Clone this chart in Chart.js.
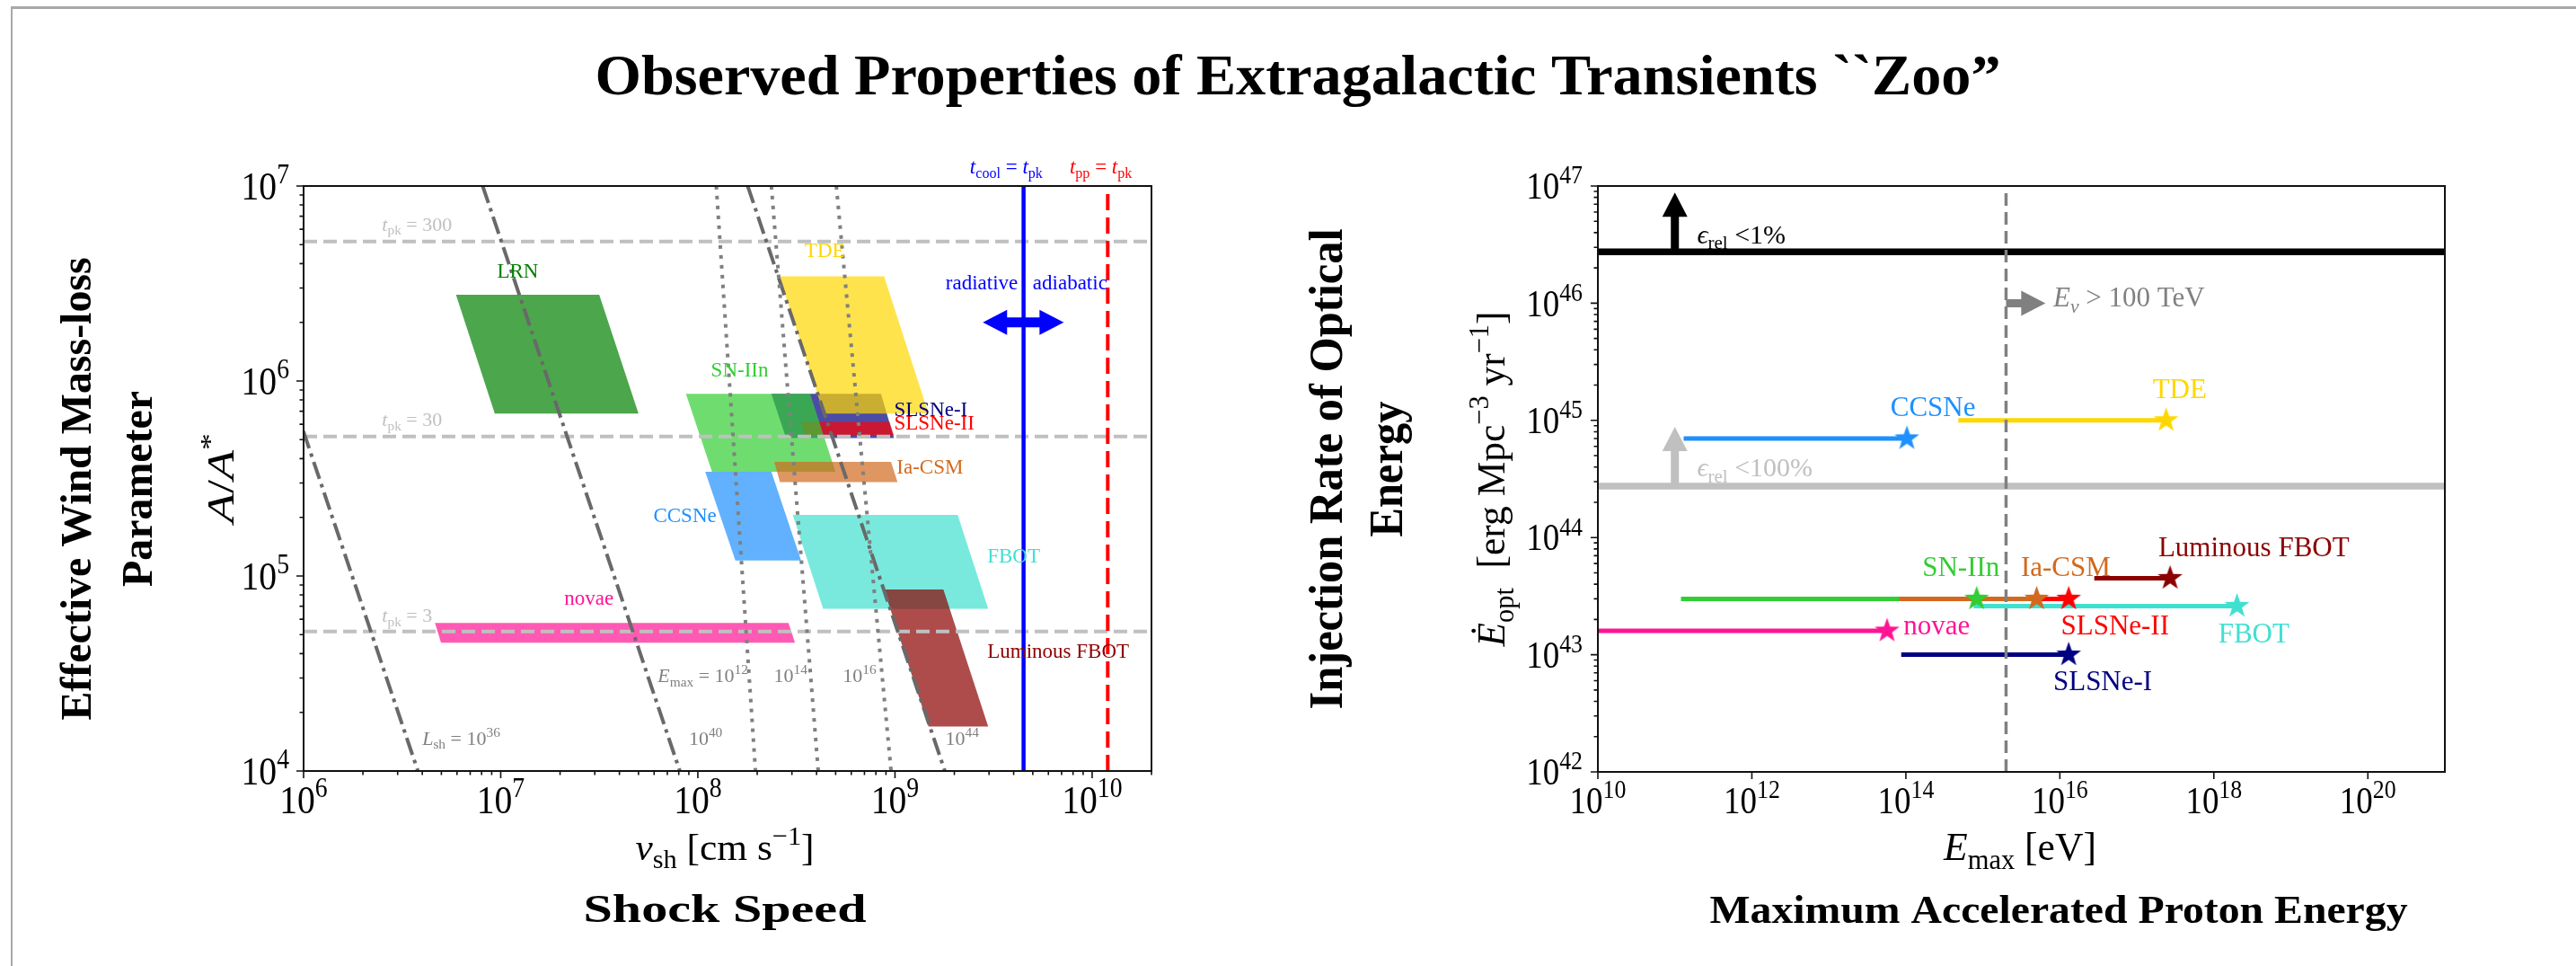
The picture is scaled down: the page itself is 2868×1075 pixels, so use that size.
<!DOCTYPE html>
<html>
<head>
<meta charset="utf-8">
<title>Extragalactic transients zoo</title>
<script src="https://cdn.jsdelivr.net/npm/chart.js@4.4.1/dist/chart.umd.min.js"></script>
<style>
  html, body { margin: 0; padding: 0; background: #fff; }
  #page { position: relative; width: 2868px; height: 1075px; overflow: hidden; background: #fff; }
  #frame { position: absolute; left: 12px; top: 7px; width: 2900px; height: 1100px;
           border-top: 3px solid #a8a8a8; border-left: 2px solid #a8a8a8; }
  canvas { position: absolute; left: 0; top: 0; }
</style>
</head>
<body>
<div id="page">
  <div id="frame"></div>
  <canvas id="speedChart" width="2868" height="1075"></canvas>
  <canvas id="energyChart" width="2868" height="1075"></canvas>
</div>
<script>
// ---------- left panel: shock speed vs. wind parameter ----------
const regionNames = ['LRN', 'novae', 'CCSNe', 'SLSNe-I', 'SLSNe-II', 'SN-IIn', 'TDE', 'Ia-CSM', 'FBOT', 'Luminous FBOT'];
// A/A* at the upper and lower edge of every region
const regionAtop    = [2.77e6, 5.74e4, 3.42e5, 8.6e5, 6.17e5, 8.6e5, 3.44e6, 3.85e5, 2.06e5, 8.53e4];
const regionAbottom = [6.8e5, 4.55e4, 1.2e5, 5.1e5, 5.25e5, 3.42e5, 6.8e5, 3.03e5, 6.78e4, 1.69e4];
// shock speed (cm/s) at the left / right corner of the upper and lower edge
const regionVtop    = [[5.93e6, 3.16e7], [4.64e6, 2.88e8], [1.09e8, 2.36e8], [2.36e8, 8.49e8], [3.34e8, 9.37e8],
                       [8.7e7, 3.71e8], [2.59e8, 8.8e8], [2.44e8, 9.55e8], [3.03e8, 2.08e9], [8.79e8, 1.76e9]];
const regionVbottom = [[9.33e6, 5.0e7], [4.98e6, 3.11e8], [1.55e8, 3.34e8], [2.8e8, 9.88e8], [3.52e8, 9.88e8],
                       [1.18e8, 4.99e8], [4.35e8, 1.48e9], [2.61e8, 1.03e9], [4.32e8, 2.97e9], [1.48e9, 2.97e9]];
const regionLabelV = [1.22e7, 2.8e7, 8.6e7, 9.9e8, 9.9e8, 1.63e8, 4.4e8, 1.02e9, 2.94e9, 2.94e9];
const regionLabelA = [3.7e6, 7.7e4, 2.06e5, 7.2e5, 6.1e5, 1.15e6, 4.69e6, 3.66e5, 1.28e5, 4.14e4];

// peak time contours (days)
const tpkValues = [300, 30, 3];
const tpkA      = [5.2e6, 5.2e5, 5.2e4];
// shock luminosity contours: exponent, speed where they hit A = 1e7 and A = 1e4
const lshExp  = [36, 40, 44];
const lshVtop = [3.8e5, 8.1e6, 1.79e8];
const lshVbot = [3.8e6, 8.1e7, 1.79e9];
// maximum proton energy contours
const emaxExp  = [12, 14, 16];
const emaxVtop = [1.24e8, 2.36e8, 5.04e8];
const emaxVbot = [1.96e8, 4.08e8, 9.55e8];
const vCool = 4.49e9;   // t_cool = t_pk
const vPP   = 1.2e10;   // t_pp = t_pk

// ---------- right panel: max proton energy vs. optical injection rate ----------
const sourceNames = ['novae', 'CCSNe', 'TDE', 'SN-IIn', 'SLSNe-II', 'Ia-CSM', 'SLSNe-I', 'FBOT', 'Luminous FBOT'];
const emaxLow  = [1e10, 1.3e11, 4.8e14, 1.2e11, 8.7e13, 8.2e13, 8.7e13, 7.6e14, 2.8e16];
const emaxHigh = [5.7e13, 1.03e14, 2.4e17, 8.3e14, 1.3e16, 5.0e15, 1.3e16, 2.0e18, 2.7e17];
const edotOpt  = [1.6e43, 7.0e44, 1.0e45, 3.0e43, 3.0e43, 3.0e43, 1.0e43, 2.6e43, 4.5e43];
const sourceLabelE = [9.3e13, 2.25e14, 3.6e17, 5.2e14, 5.2e16, 1.19e16, 3.6e16, 3.3e18, 3.3e18];
const sourceLabelY = [1.78e43, 1.32e45, 1.88e45, 5.7e43, 1.78e43, 5.7e43, 5.96e42, 1.52e43, 8.4e43];

const effPercent = [1, 100];            // eps_rel limits
const effLevel   = [2.74e46, 2.74e44];
const effArrowE  = 1e11;
const effArrowTip = [8.8e46, 8.8e44];
const nuThreshold = 2e15;               // E_nu > 100 TeV
const nuArrowEnd  = 6.5e15;
const nuArrowY    = 1e46;

// ---------- styles ----------
const FAM = '"Liberation Serif"';
const regionText = ['green', 'deeppink', 'dodgerblue', 'navy', 'red', 'limegreen', 'gold', 'chocolate', 'turquoise', 'darkred'];
const regionFill = ['rgba(0,128,0,0.7)', 'rgba(255,20,147,0.7)', 'rgba(30,144,255,0.7)', 'rgba(0,0,128,0.7)',
                    'rgba(255,0,0,0.7)', 'rgba(50,205,50,0.7)', 'rgba(255,215,0,0.7)', 'rgba(210,105,30,0.7)',
                    'rgba(64,224,208,0.7)', 'rgba(139,0,0,0.7)'];
const regionAlign = ['center', 'center', 'center', 'left', 'left', 'center', 'center', 'left', 'left', 'left'];
const sourceColors = ['deeppink', 'dodgerblue', 'gold', 'limegreen', 'red', 'chocolate', 'navy', 'turquoise', 'darkred'];
const sourceAlign = ['left', 'center', 'center', 'center', 'center', 'center', 'center', 'center', 'center'];

// ---------- text helpers (sub/superscripts) ----------
function fontStr(st, size) {
  return (st.includes('i') ? 'italic ' : '') + (st.includes('b') ? 'bold ' : '') + size.toFixed(1) + 'px ' + FAM;
}
// parts: [text, style]; style letters i=italic, b=bold, s=subscript, p=superscript
function drawRich(ctx, parts, x, y, o) {
  ctx.save();
  let w = 0;
  const items = parts.map(([t, st = '']) => {
    const small = st.includes('s') || st.includes('p');
    const font = fontStr(st, small ? o.size * 0.7 : o.size);
    ctx.font = font;
    const it = { t, font, x: w, dy: st.includes('s') ? o.size * 0.22 : st.includes('p') ? -o.size * 0.4 : 0 };
    w += ctx.measureText(t).width;
    return it;
  });
  ctx.translate(x, y);
  if (o.rot) ctx.rotate(o.rot);
  const sx = o.width ? o.width / w : (o.sx || 1);
  ctx.scale(sx, 1);
  const x0 = o.align === 'center' ? -w / 2 : o.align === 'right' ? -w : 0;
  const by = o.base ? 0 : o.size * 0.34;
  ctx.fillStyle = o.color || '#000';
  ctx.textAlign = 'left';
  ctx.textBaseline = 'alphabetic';
  items.forEach(it => { ctx.font = it.font; ctx.fillText(it.t, x0 + it.x, by + it.dy); });
  ctx.restore();
  return w;
}

function arrow(ctx, x0, y0, x1, y1, shaft, head, headLen, both) {
  const L = Math.hypot(x1 - x0, y1 - y0), ux = (x1 - x0) / L, uy = (y1 - y0) / L;
  const P = (s, n) => [x0 + ux * s - uy * n, y0 + uy * s + ux * n];
  const sw = shaft / 2, hw = head / 2;
  const pts = both
    ? [P(0, 0), P(headLen, hw), P(headLen, sw), P(L - headLen, sw), P(L - headLen, hw), P(L, 0),
       P(L - headLen, -hw), P(L - headLen, -sw), P(headLen, -sw), P(headLen, -hw)]
    : [P(0, sw), P(L - headLen, sw), P(L - headLen, hw), P(L, 0), P(L - headLen, -hw), P(L - headLen, -sw), P(0, -sw)];
  ctx.beginPath();
  pts.forEach((p, i) => i ? ctx.lineTo(p[0], p[1]) : ctx.moveTo(p[0], p[1]));
  ctx.closePath();
  ctx.fill();
}

function minorTicks(lo, hi) {
  const out = [];
  for (let d = Math.floor(Math.log10(lo)); d <= Math.ceil(Math.log10(hi)); d++)
    for (let m = 2; m <= 9; m++) {
      const v = m * Math.pow(10, d);
      if (v >= lo * 0.999 && v <= hi * 1.001) out.push(v);
    }
  return out;
}

// frame, ticks and 10^n labels drawn through the chart's own scales
function drawAxes(chart, t) {
  const { ctx, chartArea: a } = chart, sx = chart.scales.x, sy = chart.scales.y;
  ctx.save();
  ctx.strokeStyle = '#111';
  ctx.lineWidth = 2;
  ctx.strokeRect(a.left, a.top, a.right - a.left, a.bottom - a.top);
  ctx.lineWidth = 1.6;
  ctx.beginPath();
  const tickX = (vals, len) => vals.forEach(v => { const p = sx.getPixelForValue(v); ctx.moveTo(p, a.bottom); ctx.lineTo(p, a.bottom + len); });
  const tickY = (vals, len) => vals.forEach(v => { const p = sy.getPixelForValue(v); ctx.moveTo(a.left, p); ctx.lineTo(a.left - len, p); });
  tickX(t.xMajor, 8); tickX(t.xMinor, 4.5); tickY(t.yMajor, 8); tickY(t.yMinor, 4.5);
  ctx.stroke();
  const pow = v => [['10'], [String(Math.round(Math.log10(v))), 'p']];
  t.xMajor.forEach(v => drawRich(ctx, pow(v), sx.getPixelForValue(v), t.xBase, { size: t.size, align: 'center', base: true, sx: t.squeeze }));
  t.yMajor.forEach(v => drawRich(ctx, pow(v), t.yRight, sy.getPixelForValue(v), { size: t.size, align: 'right', sx: t.squeeze }));
  ctx.restore();
}

const lineSet = (pts, color, width, dash) => ({
  data: pts, showLine: true, borderColor: color, borderWidth: width, borderDash: dash || [],
  pointRadius: 0, fill: false, clip: 0
});
// give datasets an order so the first listed is painted first (at the bottom)
const stack = sets => sets.map((s, i) => Object.assign(s, { order: sets.length - i }));

const baseOptions = (pad, xr, yr) => ({
  responsive: false, animation: false, devicePixelRatio: 1,
  layout: { padding: pad },
  plugins: { legend: { display: false }, tooltip: { enabled: false } },
  scales: {
    x: { type: 'logarithmic', min: xr[0], max: xr[1], bounds: 'data', ticks: { display: false },
         grid: { display: false }, border: { display: false }, afterFit: s => { s.height = 0; } },
    y: { type: 'logarithmic', min: yr[0], max: yr[1], bounds: 'data', ticks: { display: false },
         grid: { display: false }, border: { display: false }, afterFit: s => { s.width = 0; } }
  }
});

// ================= left chart =================
const speedSets = [];
regionNames.forEach((n, i) => speedSets.push({
  label: n,
  data: [{ x: regionVtop[i][0], y: regionAtop[i] }, { x: regionVtop[i][1], y: regionAtop[i] },
         { x: regionVbottom[i][1], y: regionAbottom[i] }, { x: regionVbottom[i][0], y: regionAbottom[i] },
         { x: regionVtop[i][0], y: regionAtop[i] }],
  showLine: true, borderWidth: 0, borderColor: 'rgba(0,0,0,0)', backgroundColor: regionFill[i],
  fill: 'shape', pointRadius: 0, clip: 0
}));
tpkA.forEach(a => speedSets.push(lineSet([{ x: 1e6, y: a }, { x: 2e10, y: a }], '#c0c0c0', 4, [15, 7])));
lshExp.forEach((e, i) => speedSets.push(lineSet([{ x: lshVtop[i], y: 1e7 }, { x: lshVbot[i], y: 1e4 }], '#696969', 4, [20, 6, 4, 6])));
emaxExp.forEach((e, i) => speedSets.push(lineSet([{ x: emaxVtop[i], y: 1e7 }, { x: emaxVbot[i], y: 1e4 }], '#808080', 4, [4, 7])));
speedSets.push(lineSet([{ x: vCool, y: 1e4 }, { x: vCool, y: 1e7 }], 'blue', 4.5));
speedSets.push(lineSet([{ x: vPP, y: 1e4 }, { x: vPP, y: 1e7 }], 'red', 4, [18, 8]));

const speedDecor = {
  id: 'speedDecor',
  afterDatasetsDraw(chart) {
    const { ctx } = chart, x = chart.scales.x, y = chart.scales.y;
    const X = v => x.getPixelForValue(v), Y = a => y.getPixelForValue(a);
    ctx.save();
    ctx.fillStyle = 'blue';
    arrow(ctx, X(2.79e9), Y(2e6), X(7.18e9), Y(2e6), 11, 28, 27, true);
    ctx.restore();
    regionNames.forEach((n, i) => drawRich(ctx, [[n]], X(regionLabelV[i]), Y(regionLabelA[i]),
      { size: 23, align: regionAlign[i], color: regionText[i] }));
    tpkValues.forEach((t, i) => drawRich(ctx, [['t', 'i'], ['pk', 's'], [' = ' + t]], X(2.5e6), Y([6.4e6, 6.35e5, 6.27e4][i]),
      { size: 22, align: 'left', color: '#c0c0c0' }));
    drawRich(ctx, [['E', 'i'], ['max', 's'], [' = 10'], [String(emaxExp[0]), 'p']], X(1.8e8), Y(3.1e4), { size: 22, align: 'right', color: 'gray' });
    drawRich(ctx, [['10'], [String(emaxExp[1]), 'p']], X(2.43e8), Y(3.1e4), { size: 22, align: 'left', color: 'gray' });
    drawRich(ctx, [['10'], [String(emaxExp[2]), 'p']], X(5.43e8), Y(3.1e4), { size: 22, align: 'left', color: 'gray' });
    drawRich(ctx, [['L', 'i'], ['sh', 's'], [' = 10'], [String(lshExp[0]), 'p']], X(4.0e6), Y(1.48e4), { size: 22, align: 'left', color: 'gray' });
    drawRich(ctx, [['10'], [String(lshExp[1]), 'p']], X(9.0e7), Y(1.48e4), { size: 22, align: 'left', color: 'gray' });
    drawRich(ctx, [['10'], [String(lshExp[2]), 'p']], X(1.8e9), Y(1.48e4), { size: 22, align: 'left', color: 'gray' });
    drawRich(ctx, [['radiative']], X(4.2e9), Y(3.2e6), { size: 23, align: 'right', color: 'blue' });
    drawRich(ctx, [['adiabatic']], X(5.0e9), Y(3.2e6), { size: 23, align: 'left', color: 'blue' });
    drawRich(ctx, [['t', 'i'], ['cool', 's'], [' = '], ['t', 'i'], ['pk', 's']], X(3.67e9), Y(1.26e7), { size: 23, align: 'center', color: 'blue' });
    drawRich(ctx, [['t', 'i'], ['pp', 's'], [' = '], ['t', 'i'], ['pk', 's']], X(1.107e10), Y(1.26e7), { size: 23, align: 'center', color: 'red' });
  },
  afterDraw(chart) {
    const { ctx } = chart;
    drawAxes(chart, {
      xMajor: [1e6, 1e7, 1e8, 1e9, 1e10], xMinor: minorTicks(1e6, 2e10),
      yMajor: [1e4, 1e5, 1e6, 1e7], yMinor: minorTicks(1e4, 1e7),
      size: 44, xBase: 905, yRight: 322, squeeze: 0.9
    });
    drawRich(ctx, [['v', 'i'], ['sh', 's'], [' [cm s'], ['\u22121', 'p'], [']']], 807, 957, { size: 42, align: 'center', base: true, width: 199 });
    drawRich(ctx, [['A', 'i'], ['/'], ['A', 'i'], ['*', 'p']], 246, 532, { size: 42, align: 'center', rot: -Math.PI / 2, width: 100 });
    drawRich(ctx, [['Shock Speed', 'b']], 807, 1026, { size: 44, align: 'center', base: true, width: 315 });
    ctx.save(); ctx.font = fontStr('b', 48);
    const sq = 218 / ctx.measureText('Parameter').width; ctx.restore();
    drawRich(ctx, [['Effective Wind Mass-loss', 'b']], 85, 544, { size: 48, align: 'center', rot: -Math.PI / 2, sx: sq });
    drawRich(ctx, [['Parameter', 'b']], 153, 544, { size: 48, align: 'center', rot: -Math.PI / 2, sx: sq });
    drawRich(ctx, [['Observed Properties of Extragalactic Transients ``Zoo\u201D', 'b']], 1445, 105,
      { size: 64, align: 'center', base: true, width: 1565 });
  }
};

new Chart(document.getElementById('speedChart'), {
  type: 'scatter',
  data: { datasets: stack(speedSets) },
  options: baseOptions({ left: 338, top: 207, right: 1586, bottom: 217 }, [1e6, 2e10], [1e4, 1e7]),
  plugins: [speedDecor]
});

// ================= right chart =================
function starImage(color, r) {
  const c = document.createElement('canvas'), s = Math.ceil(2 * r + 4);
  c.width = c.height = s;
  const g = c.getContext('2d');
  g.translate(s / 2, s / 2);
  g.beginPath();
  for (let k = 0; k < 10; k++) {
    const ang = -Math.PI / 2 + k * Math.PI / 5, rr = k % 2 ? r * 0.4 : r;
    g.lineTo(rr * Math.cos(ang), rr * Math.sin(ang));
  }
  g.closePath();
  g.fillStyle = color;
  g.fill();
  return c;
}

const energySets = [];
effLevel.forEach((lv, i) => energySets.push(lineSet([{ x: 1e10, y: lv }, { x: 1e21, y: lv }], i ? '#c0c0c0' : '#000', 7.5)));
sourceNames.forEach((n, i) => energySets.push(Object.assign(
  lineSet([{ x: emaxLow[i], y: edotOpt[i] }, { x: emaxHigh[i], y: edotOpt[i] }], sourceColors[i], 5), { label: n })));
energySets.push(lineSet([{ x: nuThreshold, y: 1e42 }, { x: nuThreshold, y: 1e47 }], '#808080', 3.5, [14, 7]));
energySets.push({
  label: 'peak',
  data: sourceNames.map((n, i) => ({ x: emaxHigh[i], y: edotOpt[i] })),
  showLine: false, pointRadius: 10, pointStyle: sourceColors.map(c => starImage(c, 14.5)), clip: false
});

const energyDecor = {
  id: 'energyDecor',
  afterDatasetsDraw(chart) {
    const { ctx } = chart, x = chart.scales.x, y = chart.scales.y;
    const X = v => x.getPixelForValue(v), Y = a => y.getPixelForValue(a);
    ctx.save();
    effLevel.forEach((lv, i) => {
      ctx.fillStyle = i ? '#c0c0c0' : '#000';
      arrow(ctx, X(effArrowE), Y(lv), X(effArrowE), Y(effArrowTip[i]), 9, 28, 27, false);
      drawRich(ctx, [['\u03F5', 'i'], ['rel', 's'], [' <' + effPercent[i] + '%']], X(1.94e11), Y(i ? 3.97e44 : 3.9e46),
        { size: 30, align: 'left', color: i ? '#c0c0c0' : '#000' });
    });
    ctx.fillStyle = '#808080';
    arrow(ctx, X(nuThreshold), Y(nuArrowY), X(nuArrowEnd), Y(nuArrowY), 9, 28, 27, false);
    ctx.restore();
    drawRich(ctx, [['E', 'i'], ['\u03BD', 'is'], [' > 100 TeV']], X(8.2e15), Y(1.13e46), { size: 31, align: 'left', color: '#808080' });
    sourceNames.forEach((n, i) => drawRich(ctx, [[n]], X(sourceLabelE[i]), Y(sourceLabelY[i]),
      { size: 31, align: sourceAlign[i], color: sourceColors[i] }));
  },
  afterDraw(chart) {
    const { ctx } = chart;
    drawAxes(chart, {
      xMajor: [1e10, 1e12, 1e14, 1e16, 1e18, 1e20], xMinor: [],
      yMajor: [1e42, 1e43, 1e44, 1e45, 1e46, 1e47], yMinor: minorTicks(1e42, 1e47),
      size: 42, xBase: 905, yRight: 1762, squeeze: 0.88
    });
    drawRich(ctx, [['E', 'i'], ['max', 's'], [' [eV]']], 2249, 957, { size: 44, align: 'center', base: true, width: 170 });
    drawRich(ctx, [['\u0116', 'i'], ['opt', 's'], ['  [erg Mpc'], ['\u22123', 'p'], [' yr'], ['\u22121', 'p'], [']']], 1660, 533,
      { size: 44, align: 'center', rot: -Math.PI / 2, width: 373 });
    drawRich(ctx, [['Maximum Accelerated Proton Energy', 'b']], 2292, 1027, { size: 44, align: 'center', base: true, width: 777 });
    drawRich(ctx, [['Injection Rate of Optical', 'b']], 1476, 522, { size: 52, align: 'center', rot: -Math.PI / 2, width: 535 });
    drawRich(ctx, [['Energy', 'b']], 1543, 522, { size: 52, align: 'center', rot: -Math.PI / 2, width: 151 });
  }
};

new Chart(document.getElementById('energyChart'), {
  type: 'scatter',
  data: { datasets: stack(energySets) },
  options: baseOptions({ left: 1779, top: 207, right: 146, bottom: 216 }, [1e10, 1e21], [1e42, 1e47]),
  plugins: [energyDecor]
});
</script>
</body>
</html>
